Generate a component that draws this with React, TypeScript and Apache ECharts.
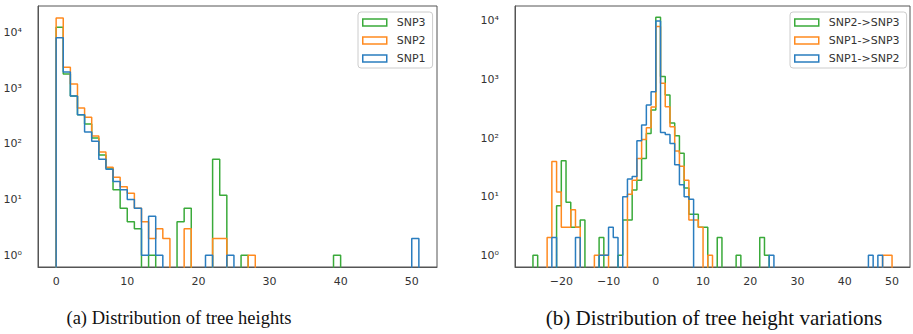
import React, { useEffect, useRef } from "react";
import * as echarts from "echarts";

// ---------- data: (a) tree heights, integer bins of width 1 starting at 0 ----------
const heightBinStart = 0;
const heightSNP3 = [12300, 1790, 720, 333, 226, 127, 63, 37, 15, 7, 4, 3, 0, 1, 0, 0, 0, 4, 7, 0, 0, 0, 53, 12, 0, 0, 1,
  0, 0, 0, 0, 0, 0, 0, 0, 0, 0, 0, 0, 1];
const heightSNP2 = [18000, 2350, 1180, 440, 300, 138, 71, 38, 25, 17, 13, 7, 4, 2, 3, 2, 0, 0, 3, 0, 0, 0, 2, 2, 0, 0, 0, 1];
const heightSNP1 = [8000, 1940, 720, 333, 163, 111, 53, 35, 21, 15, 10, 7, 1, 5, 1, 0, 0, 0, 0, 0, 0, 1, 0, 0, 1,
  0, 0, 0, 0, 0, 0, 0, 0, 0, 0, 0, 0, 0, 0, 0, 0, 0, 0, 0, 0, 0, 0, 0, 0, 0, 2];

// ---------- data: (b) tree height variations, integer bins of width 1 ----------
const varStartSNP2toSNP3 = -26;
const varSNP2toSNP3 = [1, 0, 0, 0, 0, 7, 41, 8, 3, 3, 4, 0, 0, 0, 2, 0, 0, 0, 1, 4, 4, 13, 19, 45, 120, 300,
  11500, 1120, 543, 180, 110, 55, 14, 5, 5, 3, 3, 0, 0, 2, 0, 0, 0, 1, 0, 0, 0, 0, 2, 1];
const varStartSNP1toSNP3 = -23;
const varSNP1toSNP3 = [2, 40, 12, 3, 3, 6, 3, 0, 0, 0, 1, 1, 1, 0, 0, 0, 0, 11, 19, 45, 95, 150, 340,
  8000, 860, 344, 156, 60, 33, 19, 4, 4, 3, 0, 1,
  0, 0, 0, 0, 0, 0, 0, 0, 0, 0, 0, 0, 0, 0, 0, 0, 0, 0, 0, 0, 0, 0, 0, 0, 0, 0, 0, 0, 0, 0, 0, 0, 0, 0, 0, 0, 1, 1];
const varStartSNP1toSNP2 = -22;
const varSNP1toSNP2 = [2, 0, 0, 0, 0, 2, 0, 0, 0, 0, 1, 1, 3, 2, 0, 10, 20, 22, 90, 167, 367, 620,
  10000, 125, 115, 81, 35, 16, 10, 9,
  0, 0, 0, 0, 0, 0, 0, 0, 0, 0, 0, 0, 0, 0, 0, 0, 1,
  0, 0, 0, 0, 0, 0, 0, 0, 0, 0, 0, 0, 0, 0, 0, 0, 0, 0, 0, 0, 1, 0, 1];

const legendHeights = ["SNP3", "SNP2", "SNP1"];
const legendVariations = ["SNP2->SNP3", "SNP1->SNP3", "SNP1->SNP2"];
const captionA = "(a) Distribution of tree heights";
const captionB = "(b) Distribution of tree height variations";

const BLUE = "#2a7dbf";
const ORANGE = "#ff8a1f";
const GREEN = "#3aaa3a";
const FLOOR = 0.1; // empty bins go below the axis and are clipped
const SUP = ["\u2070", "\u00b9", "\u00b2", "\u00b3", "\u2074", "\u2075"];
const FONT = "DejaVu Sans";

function stepPoints(start: number, counts: number[]) {
  const pts: [number, number][] = [[start, FLOOR]];
  counts.forEach((c, i) => pts.push([start + i, c > 0 ? c : FLOOR]));
  pts.push([start + counts.length, FLOOR]);
  return pts;
}

function histSeries(name: string, color: string, idx: number, start: number, counts: number[]) {
  return {
    type: "line",
    name,
    xAxisIndex: idx,
    yAxisIndex: idx,
    data: stepPoints(start, counts),
    step: "end",
    symbol: "none",
    showSymbol: false,
    clip: true,
    silent: true,
    color,
    itemStyle: { color },
    lineStyle: { color, width: 1.5 },
  };
}

const xLabel = (v: number) => {
  if (Math.abs(v % 10) > 1e-9) return "";
  return v < 0 ? "\u2212" + Math.abs(v) : String(v);
};
const yLabel = (v: number) => {
  const e = Math.log10(v);
  const r = Math.round(e);
  if (Math.abs(e - r) > 1e-6 || r < 0) return "";
  return "10" + SUP[r];
};

function xAxis(idx: number, min: number, max: number) {
  return {
    gridIndex: idx,
    type: "value",
    min,
    max,
    minInterval: 10,
    maxInterval: 10,
    splitLine: { show: false },
    axisLine: { show: true, onZero: false, lineStyle: { color: "#555", width: 1 } },
    axisTick: { show: false },
    axisLabel: { margin: 9, fontFamily: FONT, fontSize: 11, color: "#333", formatter: xLabel },
  };
}

function yAxis(idx: number, min: number, max: number) {
  return {
    gridIndex: idx,
    type: "log",
    logBase: 10,
    min,
    max,
    splitLine: { show: false },
    axisLine: { show: true, onZero: false, lineStyle: { color: "#555", width: 1 } },
    axisTick: { show: false },
    axisLabel: {
      margin: 16,
      fontFamily: FONT,
      fontSize: 11,
      color: "#333",
      padding: [6, 0, 0, 0],
      formatter: yLabel,
    },
  };
}

function legend(names: string[], colors: string[], left: number) {
  return {
    orient: "vertical",
    left,
    top: 12,
    icon: "rect",
    itemWidth: 24,
    itemHeight: 7,
    itemGap: 7,
    padding: [5, 7, 4, 4],
    backgroundColor: "rgba(255,255,255,0.8)",
    borderColor: "#cccccc",
    borderWidth: 1,
    borderRadius: 3,
    selectedMode: false,
    textStyle: { fontFamily: FONT, fontSize: 11, color: "#333", padding: [0, 0, 0, 5] },
    data: names.map((name, i) => ({
      name,
      icon: "rect",
      itemStyle: { color: "#ffffff", borderColor: colors[i], borderWidth: 1.5 },
    })),
  };
}

export default function App() {
  const ref = useRef<HTMLDivElement>(null);
  useEffect(() => {
    if (!ref.current) return;
    const chart = echarts.init(ref.current, undefined, { renderer: "svg" });
    chart.setOption({
      animation: false,
      backgroundColor: "#ffffff",
      grid: [
        { left: 38, top: 6, width: 399, height: 261, show: true, borderColor: "#555", borderWidth: 1, containLabel: false },
        { left: 515, top: 6, width: 399, height: 261, show: true, borderColor: "#555", borderWidth: 1, containLabel: false },
      ],
      xAxis: [xAxis(0, -2.55, 53.55), xAxis(1, -29.8, 53.8)],
      yAxis: [yAxis(0, 0.617, 29630), yAxis(1, 0.63, 17960)],
      legend: [
        legend(legendHeights, [GREEN, ORANGE, BLUE], 358),
        legend(legendVariations, [GREEN, ORANGE, BLUE], 790),
      ],
      series: [
        histSeries("SNP3", GREEN, 0, heightBinStart, heightSNP3),
        histSeries("SNP2", ORANGE, 0, heightBinStart, heightSNP2),
        histSeries("SNP1", BLUE, 0, heightBinStart, heightSNP1),
        histSeries("SNP2->SNP3", GREEN, 1, varStartSNP2toSNP3, varSNP2toSNP3),
        histSeries("SNP1->SNP3", ORANGE, 1, varStartSNP1toSNP3, varSNP1toSNP3),
        histSeries("SNP1->SNP2", BLUE, 1, varStartSNP1toSNP2, varSNP1toSNP2),
      ],
      graphic: [
        {
          type: "text",
          x: 179,
          y: 318,
          style: {
            text: captionA,
            fill: "#111",
            font: '18.5px "Liberation Serif"',
            textAlign: "center",
            textVerticalAlign: "middle",
            align: "center",
            verticalAlign: "middle",
          },
        },
        {
          type: "text",
          x: 714,
          y: 318,
          style: {
            text: captionB,
            fill: "#111",
            font: '21px "Liberation Serif"',
            textAlign: "center",
            textVerticalAlign: "middle",
            align: "center",
            verticalAlign: "middle",
          },
        },
      ],
    });
    return () => chart.dispose();
  }, []);
  return <div ref={ref} style={{ position: "absolute", left: 0, top: 0, width: 913, height: 334 }} />;
}
